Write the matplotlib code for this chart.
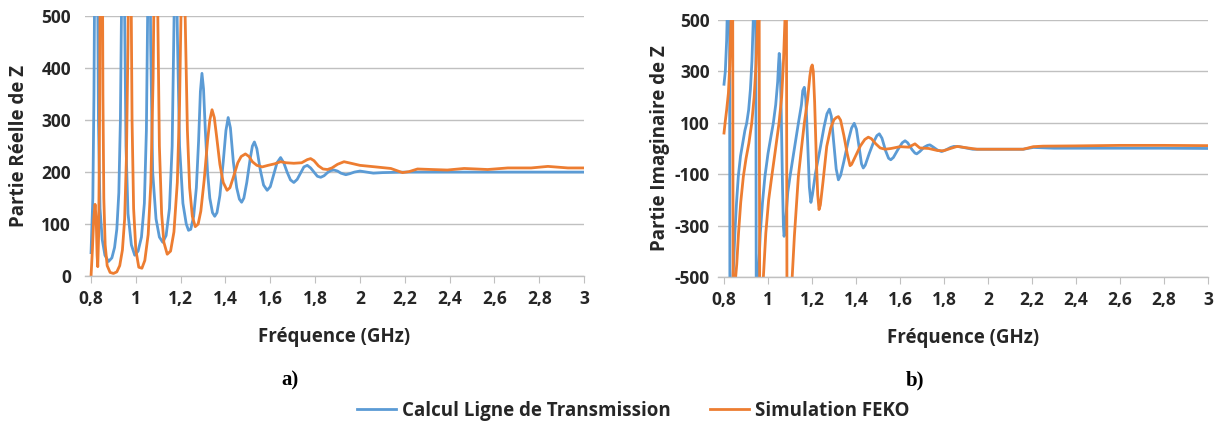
import matplotlib
matplotlib.use("Agg")
import matplotlib.pyplot as plt
from matplotlib.lines import Line2D

# Fréquences / valeurs (GHz, Ohm)
# a) partie réelle - calcul ligne de transmission
re_calc_f = [0.800, 0.808, 0.813, 0.818, 0.824, 0.829, 0.833, 0.840, 0.850, 0.862, 0.878, 0.893,
             0.905, 0.915, 0.924, 0.931, 0.938, 0.944, 0.950, 0.956, 0.965, 0.980, 0.995, 1.010,
             1.025, 1.038, 1.047, 1.055, 1.060, 1.066, 1.075, 1.090, 1.105, 1.120, 1.135, 1.150,
             1.162, 1.170, 1.177, 1.186, 1.195, 1.210, 1.225, 1.235, 1.245, 1.258, 1.270, 1.280,
             1.288, 1.295, 1.302, 1.310, 1.320, 1.330, 1.342, 1.352, 1.362, 1.375, 1.390, 1.402,
             1.412, 1.422, 1.435, 1.450, 1.462, 1.472, 1.482, 1.495, 1.510, 1.520, 1.529, 1.540,
             1.555, 1.570, 1.586, 1.600, 1.615, 1.630, 1.646, 1.660, 1.675, 1.690, 1.705, 1.720,
             1.735, 1.750, 1.765, 1.780, 1.795, 1.810, 1.825, 1.840, 1.855, 1.870, 1.884, 1.900,
             1.915, 1.937, 1.955, 1.975, 2.000, 2.030, 2.060, 2.100, 2.200, 2.500, 3.000]
re_calc_v = [45, 150, 350, 700, 1000, 600, 300, 130, 70, 40, 28, 35,
             55, 90, 160, 300, 600, 1000, 500, 250, 120, 60, 40, 48,
             75, 140, 280, 600, 900, 450, 200, 110, 75, 65, 78, 130,
             250, 480, 700, 450, 250, 140, 100, 88, 90, 115, 170, 260,
             355, 390, 360, 280, 200, 150, 122, 115, 122, 155, 220, 280,
             305, 285, 220, 170, 148, 142, 150, 180, 225, 250, 258, 245,
             205, 175, 165, 172, 195, 218, 228, 218, 200, 185, 180, 186,
             198, 210, 213, 208, 200, 192, 190, 193, 199, 203, 204, 202,
             198, 195, 197, 200, 202, 200, 198, 199, 200, 200, 200]

# a) partie réelle - simulation FEKO
re_feko_f = [0.800, 0.806, 0.812, 0.818, 0.823, 0.827, 0.830, 0.834, 0.838, 0.842, 0.846, 0.850,
             0.853, 0.857, 0.863, 0.872, 0.885, 0.900, 0.915, 0.928, 0.940, 0.950, 0.958, 0.965,
             0.972, 0.978, 0.983, 0.990, 1.000, 1.013, 1.027, 1.040, 1.055, 1.067, 1.077, 1.085,
             1.092, 1.098, 1.105, 1.115, 1.125, 1.140, 1.155, 1.170, 1.185, 1.195, 1.205, 1.212,
             1.220, 1.230, 1.240, 1.252, 1.265, 1.278, 1.290, 1.305, 1.320, 1.330, 1.340, 1.350,
             1.360, 1.375, 1.390, 1.407, 1.420, 1.435, 1.455, 1.470, 1.489, 1.505, 1.520, 1.540,
             1.564, 1.590, 1.620, 1.646, 1.670, 1.705, 1.740, 1.765, 1.780, 1.795, 1.815, 1.835,
             1.855, 1.875, 1.900, 1.929, 1.960, 2.000, 2.070, 2.138, 2.190, 2.220, 2.257, 2.320,
             2.390, 2.465, 2.520, 2.570, 2.660, 2.764, 2.839, 2.928, 3.000]
re_feko_v = [0, 50, 110, 138, 110, 40, 18, 80, 300, 700, 1200, 700,
             350, 150, 60, 20, 7, 5, 8, 20, 50, 110, 230, 450,
             900, 600, 300, 130, 50, 17, 15, 30, 80, 180, 380, 700,
             900, 500, 250, 120, 65, 42, 48, 85, 180, 330, 600, 800,
             500, 280, 170, 115, 95, 100, 125, 185, 260, 300, 320, 305,
             270, 215, 180, 165, 170, 190, 218, 230, 235, 230, 220, 213,
             210, 213, 216, 220, 218, 217, 218, 224, 226, 222, 212, 206,
             205, 208, 215, 220, 217, 213, 210, 207, 199, 201, 206, 205,
             204, 207, 206, 205, 208, 208, 211, 208, 208]

# b) partie imaginaire - calcul ligne de transmission
im_calc_f = [0.800, 0.806, 0.812, 0.818, 0.824, 0.828, 0.834, 0.841, 0.850, 0.857, 0.865, 0.875,
             0.885, 0.895, 0.903, 0.912, 0.920, 0.927, 0.933, 0.938, 0.943, 0.948, 0.952, 0.956,
             0.965, 0.975, 0.986, 1.000, 1.012, 1.024, 1.035, 1.044, 1.048, 1.051, 1.055, 1.060,
             1.066, 1.070, 1.073, 1.077, 1.090, 1.100, 1.120, 1.138, 1.152, 1.158, 1.165, 1.172,
             1.180, 1.188, 1.195, 1.202, 1.215, 1.236, 1.255, 1.268, 1.279, 1.288, 1.298, 1.310,
             1.320, 1.330, 1.345, 1.365, 1.380, 1.392, 1.402, 1.415, 1.425, 1.433, 1.442, 1.460,
             1.480, 1.495, 1.506, 1.518, 1.535, 1.548, 1.558, 1.570, 1.590, 1.610, 1.623, 1.635,
             1.655, 1.668, 1.676, 1.690, 1.710, 1.725, 1.736, 1.750, 1.770, 1.789, 1.810, 1.830,
             1.845, 1.870, 1.900, 1.930, 2.000, 2.100, 2.160, 2.206, 2.300, 2.500, 2.800, 3.000]
im_calc_v = [250, 300, 420, 650, 1500, -1500, -800, -500, -320, -210, -109, -30,
             20, 70, 98, 150, 230, 340, 500, 800, 1500, -1500, -800, -500,
             -330, -210, -109, -20, 40, 98, 170, 260, 330, 370, 330, 150,
             -150, -300, -342, -320, -170, -109, 0, 98, 170, 225, 238, 190,
             30, -150, -210, -180, -100, -5, 85, 135, 153, 125, 30, -80,
             -122, -105, -50, 30, 80, 98, 75, 0, -60, -76, -65, -20,
             25, 50, 57, 40, -10, -38, -44, -35, -5, 22, 30, 22,
             -5, -18, -21, -12, 5, 12, 14, 6, -6, -12, -5, 4,
             8, 7, 2, -3, -3, -3, -3, 4, 1, 1, 1, 0]

# b) partie imaginaire - simulation FEKO
im_feko_f = [0.800, 0.805, 0.812, 0.820, 0.826, 0.832, 0.838, 0.843, 0.848, 0.853, 0.858, 0.866,
             0.876, 0.888, 0.900, 0.913, 0.926, 0.937, 0.946, 0.953, 0.958, 0.964, 0.970, 0.979,
             0.990, 1.003, 1.017, 1.033, 1.050, 1.062, 1.070, 1.077, 1.082, 1.088, 1.094, 1.110,
             1.120, 1.138, 1.152, 1.165, 1.180, 1.190, 1.196, 1.201, 1.206, 1.212, 1.220, 1.226,
             1.232, 1.238, 1.250, 1.267, 1.285, 1.300, 1.310, 1.320, 1.330, 1.345, 1.360, 1.373,
             1.380, 1.395, 1.420, 1.440, 1.456, 1.470, 1.490, 1.510, 1.532, 1.560, 1.600, 1.640,
             1.668, 1.690, 1.730, 1.770, 1.797, 1.830, 1.860, 1.900, 1.950, 2.050, 2.160, 2.206,
             2.250, 2.400, 2.600, 2.800, 3.000]
im_feko_v = [60, 100, 150, 215, 320, 500, 1500, -1500, -800, -500, -450, -330,
             -210, -109, -40, 20, 98, 200, 330, 500, 1500, -1500, -800, -500,
             -330, -200, -109, -10, 98, 200, 330, 500, 1500, -1500, -800, -500,
             -340, -109, 0, 98, 190, 280, 315, 325, 300, 180, -50, -180,
             -238, -220, -130, 8, 80, 112, 120, 124, 110, 50, -20, -67,
             -62, -35, 10, 35, 44, 38, 18, 2, -3, 0, 7, 5,
             18, 2, 0, -8, -9, 0, 8, 3, -3, -3, -3, 7,
             9, 10, 12, 12, 11]

x_ticks = [0.8, 1.0, 1.2, 1.4, 1.6, 1.8, 2.0, 2.2, 2.4, 2.6, 2.8, 3.0]
x_labels = ['0,8', '1', '1,2', '1,4', '1,6', '1,8', '2', '2,2', '2,4', '2,6', '2,8', '3']
re_ticks = [0, 100, 200, 300, 400, 500]
re_labels = ['0', '100', '200', '300', '400', '500']
im_ticks = [-500, -300, -100, 100, 300, 500]
im_labels = ['-500', '-300', '-100', '100', '300', '500']

BLUE = '#5B9BD5'
ORANGE = '#ED7D31'
GRID = '#C0C0C0'
TXT = '#262626'
plt.rcParams['font.family'] = ['Open Sans', 'DejaVu Sans']

fig = plt.figure(figsize=(12.19, 4.26), dpi=100)
# la zone de tracé commence un peu avant 0,8 (comme dans Excel)
ax1 = fig.add_axes([85 / 1219, 0.352, 499 / 1219, 0.610])
ax2 = fig.add_axes([718 / 1219, 0.350, 490 / 1219, 0.603])


def style(ax, ticks, labels, ylabel, xmin, ypad, lpad):
    ax.set_xlim(xmin, 3.0)
    ax.set_ylim(ticks[0], ticks[-1])
    ax.set_xticks(x_ticks)
    ax.set_xticklabels(x_labels)
    ax.set_yticks(ticks)
    ax.set_yticklabels(labels)
    for s in ['top', 'right', 'left']:
        ax.spines[s].set_visible(False)
    ax.spines['bottom'].set_color(GRID)
    ax.spines['bottom'].set_linewidth(1)
    ax.yaxis.grid(True, color=GRID, linewidth=1)
    ax.set_axisbelow(True)
    ax.tick_params(axis='x', direction='out', length=5, color=GRID, pad=5,
                   labelsize=12.5, labelcolor=TXT)
    ax.tick_params(axis='y', length=0, pad=ypad, labelsize=12.5, labelcolor=TXT)
    for lab in ax.get_xticklabels() + ax.get_yticklabels():
        lab.set_fontweight('bold')
    ax.set_xlabel('Fréquence (GHz)', fontsize=13.5, fontweight='bold', color=TXT, labelpad=14)
    ax.set_ylabel(ylabel, fontsize=13.5, fontweight='bold', color=TXT, labelpad=lpad)


ax1.plot(re_calc_f, re_calc_v, color=BLUE, lw=2, solid_joinstyle='round')
ax1.plot(re_feko_f, re_feko_v, color=ORANGE, lw=2, solid_joinstyle='round')
style(ax1, re_ticks, re_labels, 'Partie Réelle de Z', 0.8 - 6 / 222.5, 10, 9)

ax2.plot(im_calc_f, im_calc_v, color=BLUE, lw=2, solid_joinstyle='round')
ax2.plot(im_feko_f, im_feko_v, color=ORANGE, lw=2, solid_joinstyle='round')
style(ax2, im_ticks, im_labels, 'Partie Imaginaire de Z', 0.8 - 6 / 220, 6, 3)

fig.text(290 / 1219, 1 - 380 / 426, 'a)', family='Liberation Serif', fontweight='bold',
         fontsize=15, ha='center', va='center')
fig.text(915 / 1219, 1 - 380 / 426, 'b)', family='Liberation Serif', fontweight='bold',
         fontsize=15, ha='center', va='center')

handles = [Line2D([], [], color=BLUE, lw=2), Line2D([], [], color=ORANGE, lw=2)]
leg = fig.legend(handles, ['Calcul Ligne de Transmission', 'Simulation FEKO'],
                 loc='center', bbox_to_anchor=(633 / 1219, 1 - 411 / 426), ncol=2,
                 frameon=False, handlelength=2.1, handletextpad=0.3, columnspacing=2.1,
                 prop={'weight': 'bold', 'size': 13.5})
for t in leg.get_texts():
    t.set_color(TXT)

fig.savefig('out.png', dpi=100)
